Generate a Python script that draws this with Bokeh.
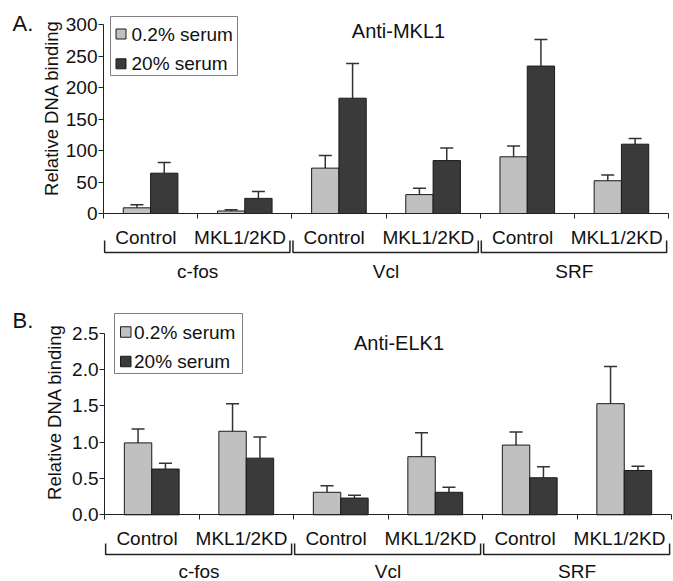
import math
from bokeh.plotting import figure
from bokeh.models import ColumnDataSource, Whisker, TeeHead, FixedTicker, Label
from bokeh.layouts import column
from bokeh.embed import file_html
from bokeh.resources import INLINE
from bokeh.core.properties import value

# ---------------- data ----------------
conditions = ["Control", "MKL1/2KD"]
genes = ["c-fos", "Vcl", "SRF"]
series_names = ["0.2% serum", "20% serum"]

mkl_low = [9, 4, 72, 30, 90, 52]
mkl_low_err = [5, 2, 20, 10, 17, 9]
mkl_high = [64, 24, 183, 84, 234, 110]
mkl_high_err = [17, 11, 55, 20, 42, 9]
mkl_ticks = [0, 50, 100, 150, 200, 250, 300]
mkl_tick_labels = ["0", "50", "100", "150", "200", "250", "300"]

elk_low = [0.99, 1.15, 0.31, 0.80, 0.96, 1.53]
elk_low_err = [0.19, 0.38, 0.09, 0.33, 0.18, 0.51]
elk_high = [0.63, 0.78, 0.23, 0.31, 0.51, 0.61]
elk_high_err = [0.08, 0.29, 0.04, 0.07, 0.15, 0.06]
elk_ticks = [0.0, 0.5, 1.0, 1.5, 2.0, 2.5]
elk_tick_labels = ["0.0", "0.5", "1.0", "1.5", "2.0", "2.5"]

y_label = "Relative DNA binding"

FONT = "Liberation Sans"
LIGHT = "#c0c0c0"
DARK = "#3a3a3a"
EDGE = "#1a1a1a"
TXT = "#111111"
W = 673
BAR_W = 0.29


def panel(H, axis_px, kx, zero_py, ky, ticks, tick_labels, low, low_err, high, high_err,
          title, title_px, letter, letter_px, ylab_px, legend_box, legend_sq, legend_txt_x,
          legend_rows, cat_py, br_py, grp_py):
    # pixel -> data helpers (layout only)
    X = lambda px: (px - axis_px) / kx
    Y = lambda py: (zero_py - py) / ky

    p = figure(width=W, height=H, x_range=(X(0), X(W)), y_range=(Y(H), Y(0)),
               output_backend="svg", toolbar_location=None,
               min_border_left=0, min_border_right=0, min_border_top=0, min_border_bottom=0)
    p.outline_line_color = None
    p.grid.visible = False
    p.background_fill_color = "white"
    p.border_fill_color = "white"

    # y axis placed at x = 0 inside the frame
    ya = p.yaxis[0]
    ya.fixed_location = 0
    ya.bounds = (ticks[0], ticks[-1])
    ya.ticker = FixedTicker(ticks=ticks)
    ya.major_label_overrides = {t: l for t, l in zip(ticks, tick_labels)}
    ya.major_tick_in = 0
    ya.major_tick_out = 5
    ya.minor_tick_out = 0
    ya.minor_tick_in = 0
    ya.major_label_standoff = 1
    ya.major_label_text_font = FONT
    ya.major_label_text_font_size = "19px"
    ya.major_label_text_color = TXT
    ya.axis_line_color = "#222222"
    ya.major_tick_line_color = "#222222"

    # x axis at zero, ticks at category boundaries
    xa = p.xaxis[0]
    xa.fixed_location = 0
    xa.bounds = (0, 6)
    xa.ticker = FixedTicker(ticks=list(range(7)))
    xa.major_label_overrides = {i: "" for i in range(7)}
    xa.major_tick_in = 0
    xa.major_tick_out = 5
    xa.minor_tick_in = 0
    xa.minor_tick_out = 0
    xa.axis_line_color = "#222222"
    xa.major_tick_line_color = "#222222"

    n = len(low)
    centers = [i + 0.5 for i in range(n)]
    for vals, errs, fill, shift in [(low, low_err, LIGHT, -BAR_W / 2),
                                    (high, high_err, DARK, BAR_W / 2)]:
        src = ColumnDataSource(dict(x=[c + shift for c in centers], top=vals,
                                    upper=[v + e for v, e in zip(vals, errs)]))
        p.vbar(x="x", top="top", bottom=0, width=BAR_W, source=src, fill_color=fill,
               line_color=EDGE, line_width=1)
        p.add_layout(Whisker(source=src, base="x", lower="top", upper="upper",
                             dimension="height", lower_head=None,
                             upper_head=TeeHead(size=13, line_color="#333333", line_width=1.5),
                             line_color="#333333", line_width=1.5))

    # legend (box, swatches, labels)
    bl, bt, br, bb = legend_box
    p.quad(left=X(bl), right=X(br), top=Y(bt), bottom=Y(bb), fill_color="white",
           line_color="#808080", line_width=1)
    sl, sr, sh = legend_sq
    p.quad(left=[X(sl)] * 2, right=[X(sr)] * 2,
           top=[Y(r - sh / 2) for r in legend_rows], bottom=[Y(r + sh / 2) for r in legend_rows],
           fill_color=[LIGHT, DARK], line_color=EDGE, line_width=1)
    p.text(x=[X(legend_txt_x)] * 2, y=[Y(r) for r in legend_rows], text=series_names,
           text_font=value(FONT), text_font_size="19px", text_align="left",
           text_baseline="middle", text_color=TXT)

    # title, panel letter, y label
    p.add_layout(Label(x=X(title_px[0]), y=Y(title_px[1]), text=title, text_align="center",
                       text_baseline="middle", text_font=FONT, text_font_size="20px",
                       text_color=TXT))
    p.add_layout(Label(x=X(letter_px[0]), y=Y(letter_px[1]), text=letter, text_align="left",
                       text_baseline="middle", text_font=FONT, text_font_size="22px",
                       text_color=TXT))
    p.add_layout(Label(x=X(ylab_px[0]), y=Y(ylab_px[1]), text=y_label, angle=math.pi / 2,
                       text_align="center", text_baseline="middle", text_font=FONT,
                       text_font_size="18.5px", text_color=TXT))

    # category labels
    cat_src = ColumnDataSource(dict(x=[c - 0.05 for c in centers], y=[Y(cat_py)] * n,
                                    t=[conditions[i % 2] for i in range(n)]))
    p.text(x="x", y="y", text="t", source=cat_src, text_font=value(FONT),
           text_font_size="19px", text_align="center", text_baseline="middle",
           text_color=TXT)

    # brackets and gene labels
    xs, ys = [], []
    for g in range(len(genes)):
        l, r = 2 * g + 0.012, 2 * g + 2 - 0.02
        xs.append([l, l, r, r])
        ys.append([Y(br_py[0]), Y(br_py[1]), Y(br_py[1]), Y(br_py[0])])
    p.multi_line(xs=xs, ys=ys, line_color="#222222", line_width=1.5)
    grp_src = ColumnDataSource(dict(x=[2 * g + 1 for g in range(len(genes))],
                                    y=[Y(grp_py)] * len(genes), t=genes))
    p.text(x="x", y="y", text="t", source=grp_src, text_font=value(FONT),
           text_font_size="19px", text_align="center", text_baseline="middle",
           text_color=TXT)
    return p


p1 = panel(290, 103, 94.17, 213, 0.63, mkl_ticks, mkl_tick_labels,
           mkl_low, mkl_low_err, mkl_high, mkl_high_err,
           "Anti-MKL1", (398, 30), "A.", (12, 23), (51, 107.5),
           (110, 16, 237, 75), (115.5, 125.5, 10), 131, [33.5, 63.3],
           237, (240, 252), 271)
p2 = panel(291, 104, 94.5, 224.3, 72.64, elk_ticks, elk_tick_labels,
           elk_low, elk_low_err, elk_high, elk_high_err,
           "Anti-ELK1", (398.5, 52), "B.", (12, 30), (54, 121.5),
           (114, 23, 242, 83), (120, 130.5, 10.5), 133.5, [41.5, 71],
           248, (253, 264), 281)

layout = column(p1, p2, spacing=0)
open("out.html", "w").write(file_html(layout, INLINE))
